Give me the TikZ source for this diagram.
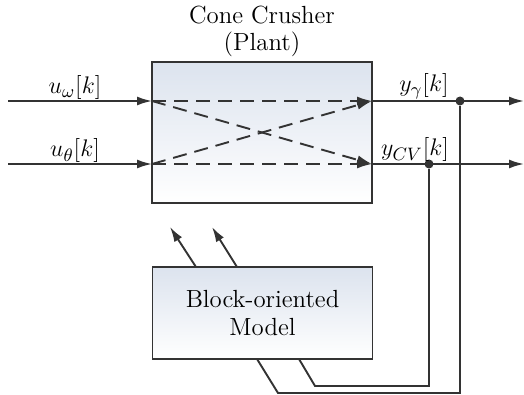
\documentclass[tikz,border=0pt]{standalone}
\usetikzlibrary{arrows.meta}
\definecolor{linec}{HTML}{333333}
\definecolor{boxtop}{HTML}{DCE3EE}
\begin{document}
\begin{tikzpicture}[x=0.5pt,y=-0.5pt,
  font=\fontsize{12.4}{13.6}\selectfont,
  block/.style={draw=linec,line width=0.95pt,top color=boxtop,bottom color=white,
    minimum width=110pt,inner sep=0pt,outer sep=0pt},
  sigline/.style={draw=linec,line width=0.95pt},
  arr/.style={sigline,-{Latex[length=7.5pt,width=4.5pt]}},
  dasharr/.style={arr,dash pattern=on 7pt off 4pt},
  junction/.style={circle,fill=linec,inner sep=0pt,minimum size=4.5pt}]
\useasboundingbox (0,0) rectangle (524,395);

% blocks
\node[block,minimum height=70.5pt] (plant) at (262,132.5) {};
\node[block,minimum height=46pt,align=center] (model) at (262.5,313)
  {Block-oriented\\Model};
\node[align=center] (title) at (262,31) {Cone Crusher\\(Plant)};

% signal points
\coordinate (i1) at (8,101);
\coordinate (i2) at (8,164);
\coordinate (a1) at (152,101);
\coordinate (a2) at (152,164);
\coordinate (b1) at (372,101);
\coordinate (b2) at (372,164);
\coordinate (o1) at (524,101);
\coordinate (o2) at (524,164);
\node[junction] (d1) at (460,101) {};
\node[junction] (d2) at (429,164) {};
\coordinate (c1) at (460,393);
\coordinate (c2) at (429,386);
\coordinate (e1) at (278,393);
\coordinate (e2) at (315,386);
\coordinate (f1) at (257,359);
\coordinate (f2) at (299,359);
\coordinate (g1) at (196,267);
\coordinate (g2) at (237,267);
\coordinate (h1) at (170,227);
\coordinate (h2) at (212,227);

% inputs
\draw[arr] (i1) -- (a1);
\draw[arr] (i2) -- (a2);
% couplings inside the plant
\draw[dasharr] (a1) -- (b1);
\draw[dasharr] (a2) -- (b2);
\draw[dasharr] (a1) -- (b2);
\draw[dasharr] (a2) -- (b1);
% outputs
\draw[arr] (b1) -- (o1);
\draw[arr] (b2) -- (o2);
% feedback to the model
\draw[sigline] (d1) -- (c1) -- (e1) -- (f1);
\draw[sigline] (d2) -- (c2) -- (e2) -- (f2);
% model outputs
\draw[arr] (g1) -- (h1);
\draw[arr] (g2) -- (h2);

% labels
\node (lu1) at (75,88) {$u_\omega[k]$};
\node (lu2) at (75,151) {$u_\theta[k]$};
\node (ly1) at (424,86) {$y_\gamma[k]$};
\node (ly2) at (415,150) {$y_{CV}[k]$};
\end{tikzpicture}
\end{document}
